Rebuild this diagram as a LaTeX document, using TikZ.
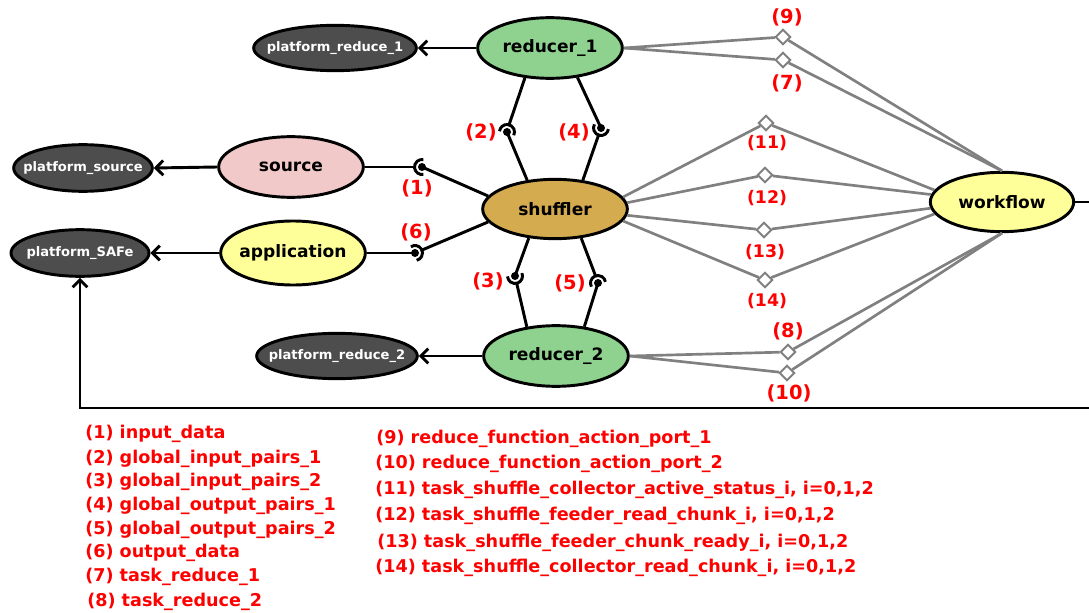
\documentclass[tikz,border=0pt]{standalone}
\usepackage{fontspec}
\setmainfont{DejaVu Sans}
\usepackage{tikz}
\usepackage{xcolor}
\usetikzlibrary{shapes.geometric, arrows.meta, calc}

\definecolor{reducefill}{RGB}{143,209,143}
\definecolor{sourcefill}{RGB}{242,201,201}
\definecolor{appfill}{RGB}{255,255,153}
\definecolor{shufflefill}{RGB}{212,171,79}
\definecolor{platfill}{RGB}{77,77,77}
\definecolor{linkgrey}{RGB}{128,128,128}

\begin{document}
\begin{tikzpicture}[x=0.75pt, y=-0.75pt,
    comp/.style={ellipse, draw, line width=2.2pt, inner xsep=-8pt, inner ysep=0pt, minimum width=108.5pt, minimum height=45.5pt,
                 font=\fontsize{12.8}{15}\selectfont\bfseries},
    platform/.style={ellipse, draw, line width=2.2pt, fill=platfill, text=white, inner xsep=-12pt, inner ysep=0pt,
                 minimum height=35pt, font=\fontsize{9.8}{12}\selectfont\bfseries},
    wire/.style={line width=2.2pt},
    link/.style={line width=2pt, draw=linkgrey},
    tap/.style={diamond, draw=linkgrey, fill=white, line width=1.5pt, minimum size=11.5pt, inner sep=0pt},
    portnum/.style={text=red, inner sep=0pt, font=\fontsize{14.6}{17}\selectfont\bfseries},
    legend/.style={text=red, inner sep=0pt, anchor=west, font=\fontsize{13.2}{15}\selectfont\bfseries},
    platarrow/.style={wire, -{Straight Barb[length=5.5pt, width=11pt]}}]
    \useasboundingbox (0,0) rectangle (1089,613);
    \clip (0,0) rectangle (1089,613);

    % components
    \node[comp, fill=reducefill] (reducer_1) at (550,48) {reducer\_1};
    \node[comp, fill=sourcefill] (source) at (291,167) {source};
    \node[comp, fill=appfill, minimum height=48pt] (application) at (293,253) {application};
    \node[comp, fill=shufflefill, minimum height=44.5pt] (shuffler) at (555,209) {shuffler};
    \node[comp, fill=reducefill] (reducer_2) at (556,356) {reducer\_2};
    \node[comp, fill=appfill, minimum width=107.5pt, minimum height=44.5pt] (workflow) at (1002,202) {workflow};

    % platforms
    \node[platform, minimum width=122pt, minimum height=34pt] (platform_reduce_1) at (335,48) {platform\_reduce\_1};
    \node[platform, minimum width=104pt] (platform_source) at (83,168) {platform\_source};
    \node[platform, minimum width=103.5pt] (platform_SAFe) at (80,253) {platform\_SAFe};
    \node[platform, minimum width=120.5pt, minimum height=34pt] (platform_reduce_2) at (337,356) {platform\_reduce\_2};

    \draw[platarrow] (reducer_1.west) -- (platform_reduce_1.east);
    \draw[platarrow] (source.west) -- (platform_source.east);
    \draw[platarrow] (application.west) -- (platform_SAFe.east);
    \draw[platarrow] (reducer_2.west) -- (platform_reduce_2.east);

    \coordinate (turn) at (1120,408);
    \draw[platarrow] (workflow.east) -| (turn) -| (platform_SAFe.south);

    % ball and socket ports
    \coordinate (p1) at (422,167);
    \coordinate (p2) at (507,132);
    \coordinate (p3) at (515,276);
    \coordinate (p4) at (601,128);
    \coordinate (p5) at (598,283);
    \coordinate (p6) at (415,253);
    \foreach \p/\a/\s/\b in {p1/180/source.east/shuffler.169, p2/-74/reducer_1.-130/shuffler.134,
                             p3/77/reducer_2.135/shuffler.-132, p4/109/shuffler.46/reducer_1.-47,
                             p5/-109/shuffler.-48/reducer_2.46, p6/-23/shuffler.-169/application.east}{
        \draw[wire] (\s) -- ($(\p)+(\a:7.5)$);
        \draw[wire] ($(\p)+(\a-100:7.5)$) arc[start angle=\a-100, end angle=\a+100, radius=7.5];
        \fill (\p) circle[radius=4];
        \draw[wire] (\p) -- (\b);
    }
    \node[portnum] (n1) at (417,188) {(1)};
    \node[portnum] (n2) at (481,132) {(2)};
    \node[portnum] (n3) at (488,281) {(3)};
    \node[portnum] (n4) at (574,132) {(4)};
    \node[portnum] (n5) at (570,283) {(5)};
    \node[portnum] (n6) at (416,232) {(6)};

    % workflow taps
    \node[tap] (d9) at (783,37) {};
    \node[tap] (d7) at (783,60) {};
    \node[tap] (d11) at (766,123) {};
    \node[tap] (d12) at (765,175) {};
    \node[tap] (d13) at (764,230) {};
    \node[tap] (d14) at (765,280) {};
    \node[tap] (d8) at (788,352) {};
    \node[tap] (d10) at (787,373) {};

    \draw[link] (reducer_1.east) -- (d9) -- (workflow.north);
    \draw[link] (reducer_1.east) -- (d7) -- (workflow.north);
    \draw[link] (shuffler.10) -- (d11) -- (workflow.170);
    \draw[link] (shuffler.5) -- (d12) -- (workflow.174);
    \draw[link] (shuffler.-5) -- (d13) -- (workflow.-175);
    \draw[link] (shuffler.-10) -- (d14) -- (workflow.-170);
    \draw[link] (reducer_2.east) -- (d8) -- (workflow.south);
    \draw[link] (reducer_2.east) -- (d10) -- (workflow.south);

    \node[portnum] (n9) at (787,17) {(9)};
    \node[portnum] (n7) at (787,83) {(7)};
    \node[portnum, font=\fontsize{13}{15}\selectfont\bfseries] (n11) at (767,143) {(11)};
    \node[portnum, font=\fontsize{13}{15}\selectfont\bfseries] (n12) at (767,198) {(12)};
    \node[portnum, font=\fontsize{13}{15}\selectfont\bfseries] (n13) at (765,252) {(13)};
    \node[portnum, font=\fontsize{13}{15}\selectfont\bfseries] (n14) at (767,301) {(14)};
    \node[portnum] (n8) at (788,331) {(8)};
    \node[portnum] (n10) at (789,393) {(10)};

    % legend
    \node[legend] (l1) at (85,434) {(1) input\_data};
    \node[legend] (l2) at (85,459) {(2) global\_input\_pairs\_1};
    \node[legend] (l3) at (85,482) {(3) global\_input\_pairs\_2};
    \node[legend] (l4) at (85,506) {(4) global\_output\_pairs\_1};
    \node[legend] (l5) at (85,530) {(5) global\_output\_pairs\_2};
    \node[legend] (l6) at (85,553) {(6) output\_data};
    \node[legend] (l7) at (85,577) {(7) task\_reduce\_1};
    \node[legend] (l8) at (87,602) {(8) task\_reduce\_2};
    \node[legend] (l9) at (376,439) {(9) reduce\_function\_action\_port\_1};
    \node[legend] (l10) at (375,464) {(10) reduce\_function\_action\_port\_2};
    \node[legend] (l11) at (375,490) {(11) task\_shuffle\_collector\_active\_status\_i, i=0,1,2};
    \node[legend] (l12) at (375,516) {(12) task\_shuffle\_feeder\_read\_chunk\_i, i=0,1,2};
    \node[legend] (l13) at (377,543) {(13) task\_shuffle\_feeder\_chunk\_ready\_i, i=0,1,2};
    \node[legend] (l14) at (375,568) {(14) task\_shuffle\_collector\_read\_chunk\_i, i=0,1,2};
\end{tikzpicture}
\end{document}
